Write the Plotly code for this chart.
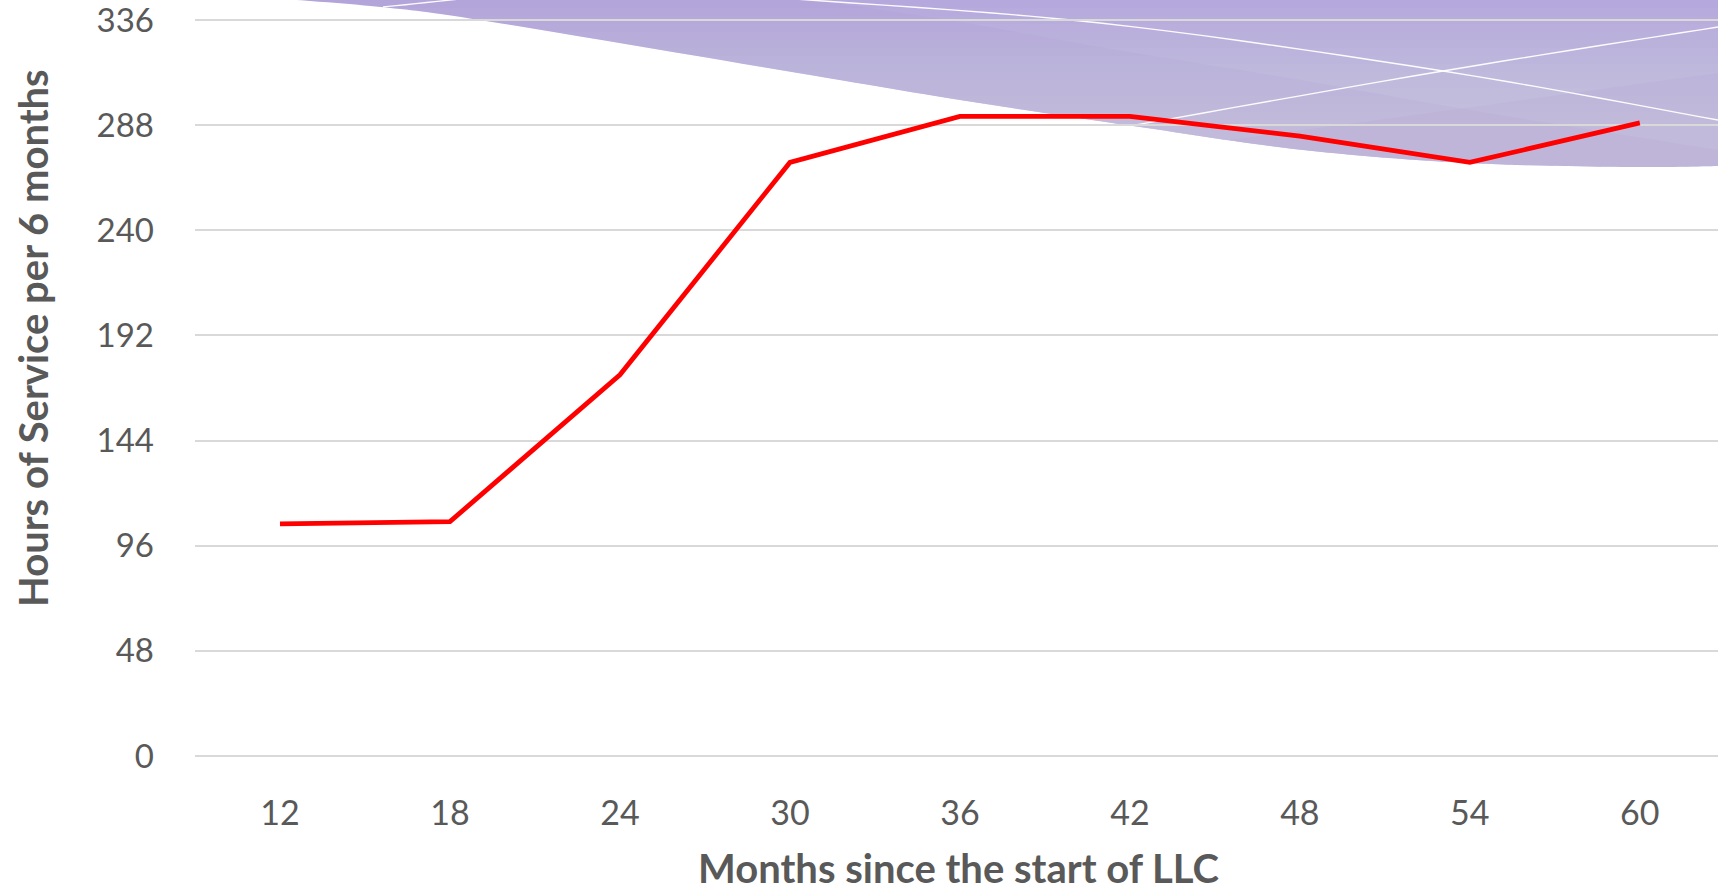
import numpy as np
import plotly.graph_objects as go

# ---- data ----
months = ["12", "18", "24", "30", "36", "42", "48", "54", "60"]
hours = [106, 107, 174, 271, 292, 292, 283, 271, 289]
y_ticks = [0, 48, 96, 144, 192, 240, 288, 336]
x_title = "Months since the start of LLC"
y_title = "Hours of Service per 6 months"

# ---- layout geometry (screen pixels) ----
W, H = 1718, 892
PLOT_L, PLOT_R, PLOT_T, PLOT_B = 195, 1718, 0, 756   # plot area
ML, MR, MT, MB = PLOT_L, W - PLOT_R, PLOT_T, H - PLOT_B
PW, PH = PLOT_R - PLOT_L, PLOT_B - PLOT_T
Y336_SCREEN = 20
y_top = 336 * (PLOT_B - PLOT_T) / (PLOT_B - Y336_SCREEN)


def px(x):
    return (x - PLOT_L) / PW


def py(y):
    return (PLOT_B - y) / PH


def smooth(pts, n=14):
    pts = np.array(pts, float)
    P = np.vstack([pts[0], pts, pts[-1]])
    out = []
    for i in range(1, len(P) - 2):
        p0, p1, p2, p3 = P[i - 1], P[i], P[i + 1], P[i + 2]
        for t in np.linspace(0, 1, n, endpoint=False):
            t2, t3 = t * t, t * t * t
            out.append(0.5 * ((2 * p1) + (-p0 + p2) * t + (2 * p0 - 5 * p1 + 4 * p2 - p3) * t2
                              + (-p0 + 3 * p1 - 3 * p2 + p3) * t3))
    out.append(P[-2])
    return [tuple(p) for p in out]


def path(points, close=True):
    s = "M " + " L ".join(f"{px(x):.5f},{py(y):.5f}" for x, y in points)
    return s + (" Z" if close else "")


# decorative purple wave (screen pixel coordinates)
TOPY = -2
edge = smooth([(270, TOPY), (381, 7), (486, 21), (780, 70), (960, 100), (1140, 127),
               (1303, 150), (1467, 163), (1633, 167), (1718, 166)])
edge_x = np.array([p[0] for p in edge])
edge_y = np.array([p[1] for p in edge])

shapes = []
base = [(270, TOPY), (1718, TOPY)] + list(reversed(edge))
shapes.append(dict(type="path", xref="paper", yref="paper", path=path(base),
                   fillcolor="#b5a8dc", line=dict(width=0), layer="below"))


def below(yt):
    xc = float(np.interp(yt, edge_y[:-3], edge_x[:-3]))
    pts = [(xc, yt), (1718, yt)] + [p for p in reversed(edge) if p[1] > yt and p[0] > xc]
    return pts


# soft vertical lightening
for yt in np.arange(8, 128, 8):
    shapes.append(dict(type="path", xref="paper", yref="paper", path=path(below(float(yt))),
                       fillcolor="rgba(255,255,255,0.026)", line=dict(width=0), layer="below"))

# faint darker bands
band1 = smooth([(800, TOPY), (960, 22), (1100, 47), (1300, 80), (1470, 110), (1718, 150)], 10)
band1_poly = band1 + [p for p in reversed(edge)] + [(800, TOPY)]
shapes.append(dict(type="path", xref="paper", yref="paper", path=path(band1_poly),
                   fillcolor="rgba(150,130,205,0.07)", line=dict(width=0), layer="below"))
band2 = smooth([(1230, 140), (1450, 110), (1718, 73)], 10)
band2_poly = band2 + [p for p in reversed(edge) if p[0] >= 1230]
shapes.append(dict(type="path", xref="paper", yref="paper", path=path(band2_poly),
                   fillcolor="rgba(150,130,205,0.07)", line=dict(width=0), layer="below"))

# thin white lines
white_lines = [
    [(383, 7), (470, TOPY)],
    [(780, TOPY), (1100, 23), (1443, 71), (1718, 120)],
    [(1130, 126), (1443, 71), (1718, 27)],
]
for wl in white_lines:
    shapes.append(dict(type="path", xref="paper", yref="paper", path=path(smooth(wl, 10), close=False),
                       line=dict(color="rgba(255,255,255,0.95)", width=1.4), layer="below"))

fig = go.Figure()
fig.add_trace(go.Scatter(x=months, y=hours, mode="lines",
                         line=dict(color="#ff0000", width=4.8), hoverinfo="x+y"))

font_fam = "Lato, 'Open Sans', sans-serif"
fig.update_layout(
    width=W, height=H,
    margin=dict(l=ML, r=MR, t=MT, b=MB, pad=0, autoexpand=False),
    paper_bgcolor="white", plot_bgcolor="rgba(0,0,0,0)",
    showlegend=False,
    shapes=shapes,
    font=dict(family=font_fam, color="#595959"),
    xaxis=dict(type="category", range=[-0.5, 8.46], showgrid=False, zeroline=False, showline=False,
               automargin=False, ticks="", tickfont=dict(size=34, color="#595959"), ticklabelstandoff=34),
    yaxis=dict(range=[0, y_top], tickvals=y_ticks, showgrid=True, gridcolor="#d9d9d9", gridwidth=2,
               zeroline=True, zerolinecolor="#d9d9d9", zerolinewidth=2, showline=False, ticks="",
               automargin=False, ticklabeloverflow="allow",
               tickfont=dict(size=33, color="#595959"), ticklabelstandoff=40),
    annotations=[
        dict(text=f"<b>{x_title}</b>", xref="paper", yref="paper", x=px(958), y=py(868),
             showarrow=False, font=dict(size=40, color="#595959"), xanchor="center", yanchor="middle"),
        dict(text=f"<b>{y_title}</b>", xref="paper", yref="paper", x=px(33), y=py(338),
             showarrow=False, textangle=-90, font=dict(size=40, color="#595959"),
             xanchor="center", yanchor="middle"),
    ],
)

fig.write_html("out.html", config={"displayModeBar": False},
               post_script="document.body.style.margin='0px';document.body.style.overflow='hidden';")
